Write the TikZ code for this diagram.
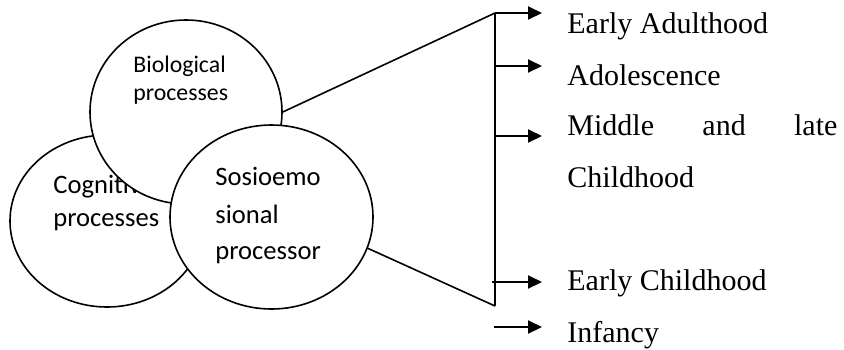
\documentclass[tikz,border=0pt]{standalone}
\usepackage{fontspec}
\setmainfont{Liberation Serif}
\newfontfamily\calib{Carlito}
\usetikzlibrary{arrows.meta,shapes.geometric}
\tikzset{
  proc/.style    ={ellipse,draw=black,fill=white,line width=0.8pt,
                   inner sep=0pt},
  ptxt/.style    ={anchor=base west,inner sep=0pt,
                   font=\calib\fontsize{13.3}{16}\selectfont},
  stage/.style   ={anchor=base west,inner sep=0pt,
                   font=\fontsize{15}{18}\selectfont},
  ed/.style      ={draw=black,line width=0.8pt},
  bar/.style     ={draw=black,line width=1pt},
  arr/.style     ={-{Triangle[length=7pt,width=6.5pt]},draw=black,line width=1pt},
}

\begin{document}
\begin{tikzpicture}[x=0.5pt, y=-0.5pt]

\useasboundingbox (0,0) rectangle (844,349);

%% ---------------- the three processes ----------------
%% drawn back to front, each one filled white over the last
\node[proc,minimum width=97pt,minimum height=86pt] (cog) at (107,221) {};
\node[ptxt] (cogA) at (53,193) {Cognitive};
\node[ptxt] (cogB) at (53,226) {processes};

\node[proc,minimum width=96pt,minimum height=92pt] (bio) at (186,112) {};
\node[ptxt,font=\calib\fontsize{11.9}{14}\selectfont] (bioA) at (133,72) {Biological};
\node[ptxt,font=\calib\fontsize{11.9}{14}\selectfont] (bioB) at (133,100) {processes};

\node[proc,minimum width=101.5pt,minimum height=92pt] (sos) at (271.5,217) {};
\node[ptxt] (sosA) at (215,185) {Sosioemo};
\node[ptxt] (sosB) at (215,223) {sional};
\node[ptxt] (sosC) at (215,259) {processor};

%% ---------------- stages ----------------
\coordinate (top) at (495,13);
\coordinate (bot) at (495,306);

\node[stage] (adult) at (567,33) {Early Adulthood};
\node[stage] (adol)  at (567,85) {Adolescence};
\node[stage] (mid)   at (567,135) {\makebox[135pt][s]{Middle and late}};
\node[stage] (midB)  at (567,187) {Childhood};
\node[stage] (early) at (567,290) {Early Childhood};
\node[stage] (inf)   at (567,342) {Infancy};

%% ---------------- connectors ----------------
\draw[ed] (bio.east) -- (top);
\draw[ed] (sos.-18) -- (bot);
\draw[bar] (top) -- (bot);

\foreach \y/\s/\n in {13/495/a, 66/495/b, 136/495/c, 282/492/d, 327/494/e}{
  \coordinate (s\n) at (\s,\y);
  \coordinate (e\n) at (542,\y);
  \draw[arr] (s\n) -- (e\n);
}

\end{tikzpicture}
\end{document}
